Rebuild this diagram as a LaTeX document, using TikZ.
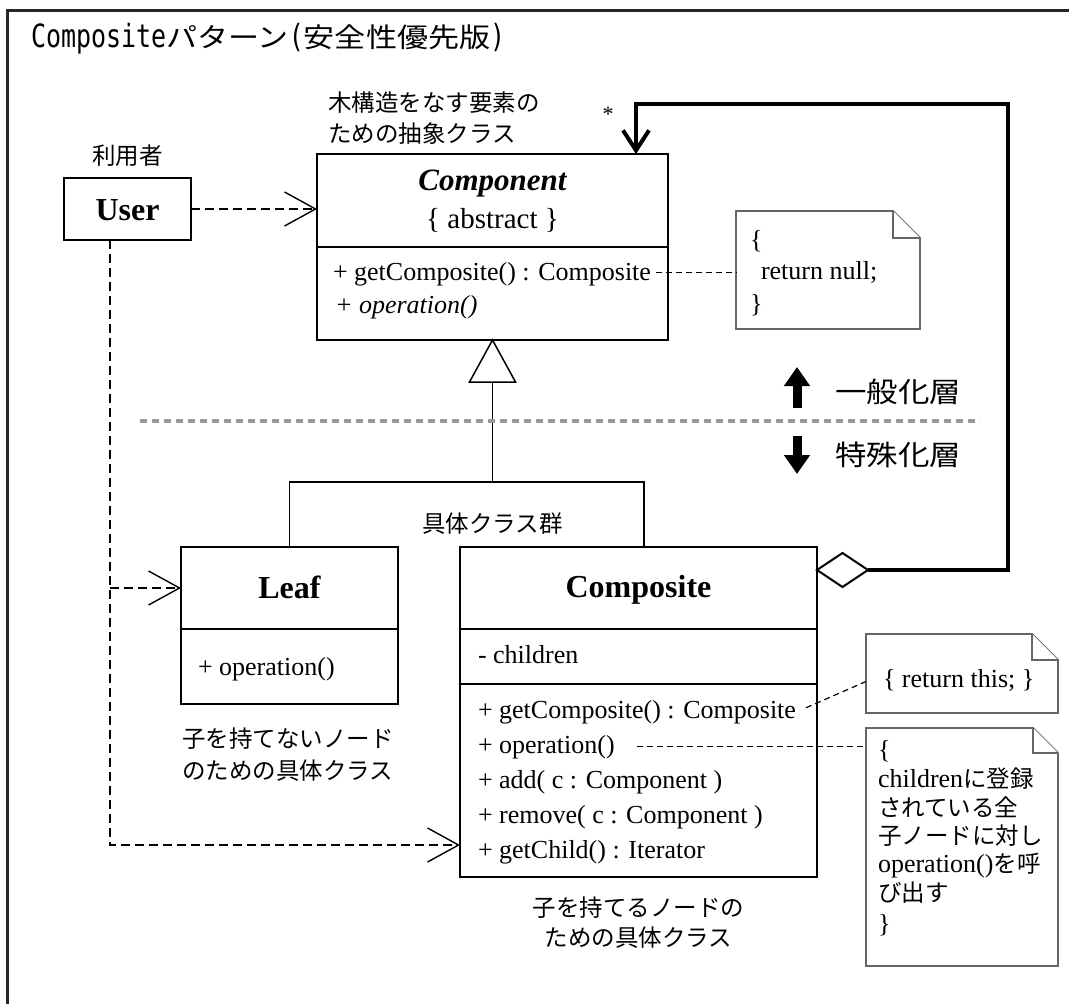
\documentclass[tikz,border=0pt]{standalone}
\usepackage{fontspec}
\usepackage{graphicx}
\setmainfont{Liberation Serif}
\newfontfamily\cjk{Noto Sans CJK JP}
\newfontfamily\monofam{DejaVu Sans Mono}
\usetikzlibrary{arrows.meta,calc}

\newcommand\fs[1]{\fontsize{#1}{#1}\selectfont}
% folded-corner note outline around an (invisible) node
\newcommand\NoteShape[2]{%
  \draw[noteline] (#1.north west) -- ($(#1.north east)+(-#2,0)$) -- ($(#1.north east)+(0,#2)$)
        -- (#1.south east) -- (#1.south west) -- cycle;
  \draw[noteline] ($(#1.north east)+(-#2,0)$) |- ($(#1.north east)+(0,#2)$);
}

\tikzset{
  every node/.style={inner sep=0pt, outer sep=0pt},
  umlbox/.style={draw, line width=2pt, anchor=north west},
  notebox/.style={anchor=north west},
  noteline/.style={draw=black!60, line width=1.8pt, fill=white, line join=miter},
  rule/.style={line width=1.5pt},
  dep/.style={line width=1.4pt, dash pattern=on 9pt off 5pt,
    -{Straight Barb[length=31pt,width=34pt,line width=1.4pt]}},
  notelink/.style={line width=1.2pt, dash pattern=on 6pt off 4pt},
  lbl/.style={font=\cjk\fs{23.5}},
  txt/.style={font=\fs{26}, anchor=base west},
}

\begin{document}
\begin{tikzpicture}[x=1pt,y=-1pt]
\useasboundingbox (0,0) rectangle (1069,1004);
\fill[white] (0,0) rectangle (1069,1004);

% outer frame (runs off the right and bottom edges)
\draw[line width=3pt, black!85] (7,1030) -- (7,10) -- (1090,10);

% title
\node[anchor=base west] (title) at (31,47)
  {{\monofam\fs{32}\scalebox{0.78}[1]{Composite}}{\cjk\fs{27}\scalebox{1.15}[1]{パターン}}{\monofam\fs{32}\scalebox{0.78}[1]{(}}{\cjk\fs{27}\scalebox{1.15}[1]{安全性優先版}}{\monofam\fs{32}\scalebox{0.78}[1]{)}}};

% ---------- Component ----------
\node[umlbox, minimum width=351pt, minimum height=186pt] (comp) at (317,154) {};
\draw[rule] (317,247) -- (668,247);
\node[anchor=base, font=\fs{31}\bfseries\itshape] (compname) at (492.5,190) {Component};
\node[anchor=base, font=\fs{29}] (compabs) at (492.5,228) {\{ abstract \}};
\node[txt] (cgc) at (333,280) {+ getComposite() : Composite};
\node[txt, font=\fs{26}\itshape] (cop) at (335,313) {+ operation()};

\node[lbl, anchor=base west, align=left] (complbl) at (328,111) {木構造をなす要素の};
\node[lbl, anchor=base west] (complbl2) at (328,142) {ための抽象クラス};

% ---------- User ----------
\node[umlbox, minimum width=127pt, minimum height=62pt] (user) at (64,178) {};
\node[anchor=base, font=\fs{32}\bfseries] (username) at (127.5,220) {User};
\node[lbl, anchor=base] (userlbl) at (127.5,164) {利用者};

% ---------- Leaf ----------
\node[umlbox, minimum width=217pt, minimum height=157pt] (leaf) at (181,547) {};
\draw[rule] (181,629) -- (398,629);
\node[anchor=base, font=\fs{32}\bfseries] (leafname) at (289.5,598) {Leaf};
\node[txt] (lop) at (198,675) {+ operation()};
\node[lbl, anchor=base west] (leaflbl1) at (182,747) {子を持てないノード};
\node[lbl, anchor=base west] (leaflbl2) at (182,779) {のための具体クラス};

% ---------- Composite ----------
\node[umlbox, minimum width=357pt, minimum height=330pt] (compos) at (460,547) {};
\draw[rule] (460,629) -- (817,629);
\draw[rule] (460,684) -- (817,684);
\node[anchor=base, font=\fs{32}\bfseries] (cosname) at (638.5,597) {Composite};
\node[txt] (cch) at (478,663) {- children};
\node[txt] (cgc2) at (478,718) {+ getComposite() : Composite};
\node[txt] (cop2) at (478,753) {+ operation()};
\node[txt] (cadd) at (478,788) {+ add( c : Component )};
\node[txt] (crem) at (478,823) {+ remove( c : Component )};
\node[txt] (cget) at (478,858) {+ getChild() : Iterator};
\node[lbl, anchor=base] (coslbl1) at (638.5,916) {子を持てるノードの};
\node[lbl, anchor=base] (coslbl2) at (638.5,946) {ための具体クラス};

\node[lbl, anchor=base west] (grp) at (422,532) {具体クラス群};

% ---------- generalization ----------
\draw[rule, fill=white, line join=miter] (comp.south) -- ++(-23,42) -- ++(46,0) -- cycle;
\coordinate (tj) at (492.5,482);
\coordinate (ctop) at (644,547);
\draw[rule] ($(comp.south)+(0,42)$) -- (tj);
\draw[rule] (leaf.north) |- (tj) -- (tj -| ctop) -- (ctop);

% layer separator and labels
\draw[line width=4pt, black!40, dash pattern=on 7pt off 5pt] (140,421) -- (980,421);
\draw[line width=9pt, -{Triangle[length=19pt,width=25pt]}] (797,408) -- (797,367);
\draw[line width=9pt, -{Triangle[length=19pt,width=25pt]}] (797,436) -- (797,474);
\node[anchor=base west] (genlbl) at (835,402) {\cjk\fs{28}\scalebox{1.125}[1]{一般化層}};
\node[anchor=base west] (speclbl) at (835,465) {\cjk\fs{28}\scalebox{1.125}[1]{特殊化層}};

% ---------- dependencies from User ----------
\coordinate (ubot) at (110,240);
\coordinate (leafin) at (181,588);
\coordinate (cosin) at (460,845);
\draw[dep] (user.east) -- (user.east -| comp.west);
\draw[dep] (ubot) |- (cosin);
\draw[dep] (ubot |- leafin) -- (leafin);

% ---------- aggregation (self reference) ----------
\coordinate (dL) at (817,570);
\coordinate (dR) at (868,570);
\coordinate (cr1) at (1008,570);
\coordinate (cr2) at (1008,104);
\coordinate (cr3) at (636,104);
\coordinate (cin) at (636,154);
\draw[line width=4pt, line join=miter, -{Straight Barb[length=20pt,width=26pt]}]
  (dR) -- (cr1) -- (cr2) -- (cr3) -- (cin);
\draw[line width=2pt, fill=white, line join=miter] (dL) -- ++(25.5,-17) -- (dR) -- ++(-25.5,17) -- cycle;
\node[anchor=base, font=\fs{22}] (mult) at (608,121) {*};

% ---------- notes ----------
\node[notebox, minimum width=184pt, minimum height=118pt] (n1) at (736,211) {};
\NoteShape{n1}{27}
\node[txt] (n1a) at (750,248) {\{};
\node[txt] (n1b) at (761,279) {return null;};
\node[txt] (n1c) at (750,312) {\}};

\node[notebox, minimum width=192pt, minimum height=79pt] (n2) at (866,634) {};
\NoteShape{n2}{26}
\node[txt] (n2a) at (883,687) {\{ return this; \}};

\node[notebox, minimum width=192pt, minimum height=238pt] (n3) at (866,728) {};
\NoteShape{n3}{25}
\node[txt] (n3a) at (878,758) {\{};
\node[txt] (n3b) at (878,787) {children{\cjk\fs{23.5}に登録}};
\node[txt] (n3c) at (878,816) {\cjk\fs{23.5}されている全};
\node[txt] (n3d) at (878,844) {\cjk\fs{23.5}子ノードに対し};
\node[txt] (n3e) at (878,872) {operation(){\cjk\fs{23.5}を呼}};
\node[txt] (n3f) at (878,901) {\cjk\fs{23.5}び出す};
\node[txt] (n3g) at (878,932) {\}};

% note links
\draw[notelink] ($(cgc.east)+(5,-1)$) -- ($(cgc.east -| n1.west)+(0,-1)$);
\draw[notelink] ($(cgc2.east)+(10,-4)$) -- ($(n2.west)+(0,8)$);
\draw[notelink] ($(cop2.east)+(22,0)$) -- (cop2.east -| n3.west);
\end{tikzpicture}
\end{document}
